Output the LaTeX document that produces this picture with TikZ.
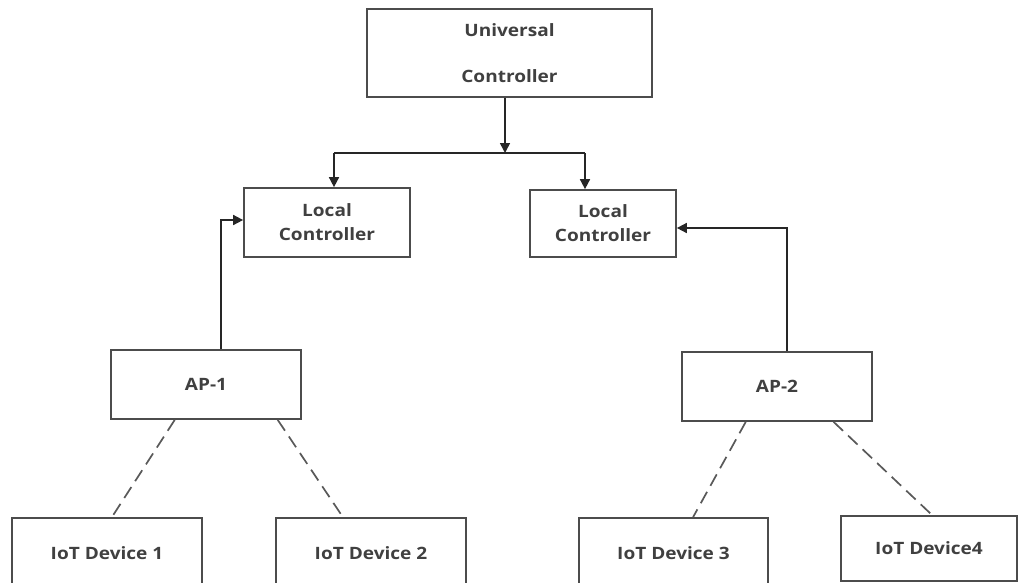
\documentclass[tikz,border=0pt]{standalone}
\usepackage{fontspec}
\setmainfont{Open Sans}[FakeStretch=1.12]
\usetikzlibrary{arrows.meta,calc}
\begin{document}
\begin{tikzpicture}[x=1pt,y=-1pt,
  box/.style={draw=black!70, line width=1.7pt, rectangle, inner sep=0pt, fill=white,
    font=\fontsize{17}{19}\selectfont\bfseries, text=black!75, align=center},
  conn/.style={draw=black!85, line width=1.6pt},
  arr/.style={conn, -{Triangle[length=10pt,width=10pt]}},
  dsh/.style={draw=black!65, line width=1.7pt, dash pattern=on 13pt off 7pt}]
\useasboundingbox (0,0) rectangle (1020,582);
\clip (0,0) rectangle (1020,582);
\fill[white] (0,0) rectangle (1020,582);
% nodes
\node[box, minimum width=285, minimum height=88] (uc) at (509.5,53) {Universal\\[27pt]Controller};
\node[box, minimum width=166, minimum height=69] (lc1) at (327,222.5) {Local\\[5pt]Controller};
\node[box, minimum width=146, minimum height=67] (lc2) at (603,223.5) {Local\\[5pt]Controller};
\node[box, minimum width=190, minimum height=69] (ap1) at (206,384.5) {AP-1};
\node[box, minimum width=190, minimum height=69] (ap2) at (777,386.5) {AP-2};
\node[box, minimum width=190, minimum height=70, anchor=north] (iot1) at (107,517) {IoT Device 1};
\node[box, minimum width=190, minimum height=70, anchor=north] (iot2) at (371,517) {IoT Device 2};
\node[box, minimum width=189, minimum height=70, anchor=north] (iot3) at (673.5,517) {IoT Device 3};
\node[box, minimum width=176, minimum height=65, anchor=north] (iot4) at (929,515) {IoT Device4};
% junctions
\coordinate (j) at (505,153);
\coordinate (jl) at (334,153);
\coordinate (jr) at (585,153);
\coordinate (a1) at (221,220);
\coordinate (a2) at (787,228);
% connectors
\draw[arr] (uc.south -| j) -- (j);
\draw[conn] (jl) -- (jr);
\draw[arr] (jl) -- (jl |- lc1.north);
\draw[arr] (jr) -- (jr |- lc2.north);
\draw[arr] (ap1.north -| a1) -- (a1) -- (a1 -| lc1.west);
\draw[arr] (ap2.north -| a2) -- (a2) -- (a2 -| lc2.east);
% dashed links
\draw[dsh] ($(ap1.south west)!0.337!(ap1.south east)$) -- ($(iot1.north west)!0.526!(iot1.north east)$);
\draw[dsh] ($(ap1.south west)!0.874!(ap1.south east)$) -- ($(iot2.north west)!0.353!(iot2.north east)$);
\draw[dsh] ($(ap2.south west)!0.337!(ap2.south east)$) -- ($(iot3.north west)!0.603!(iot3.north east)$);
\draw[dsh] ($(ap2.south west)!0.795!(ap2.south east)$) -- ($(iot4.north west)!0.517!(iot4.north east)$);
\end{tikzpicture}
\end{document}
